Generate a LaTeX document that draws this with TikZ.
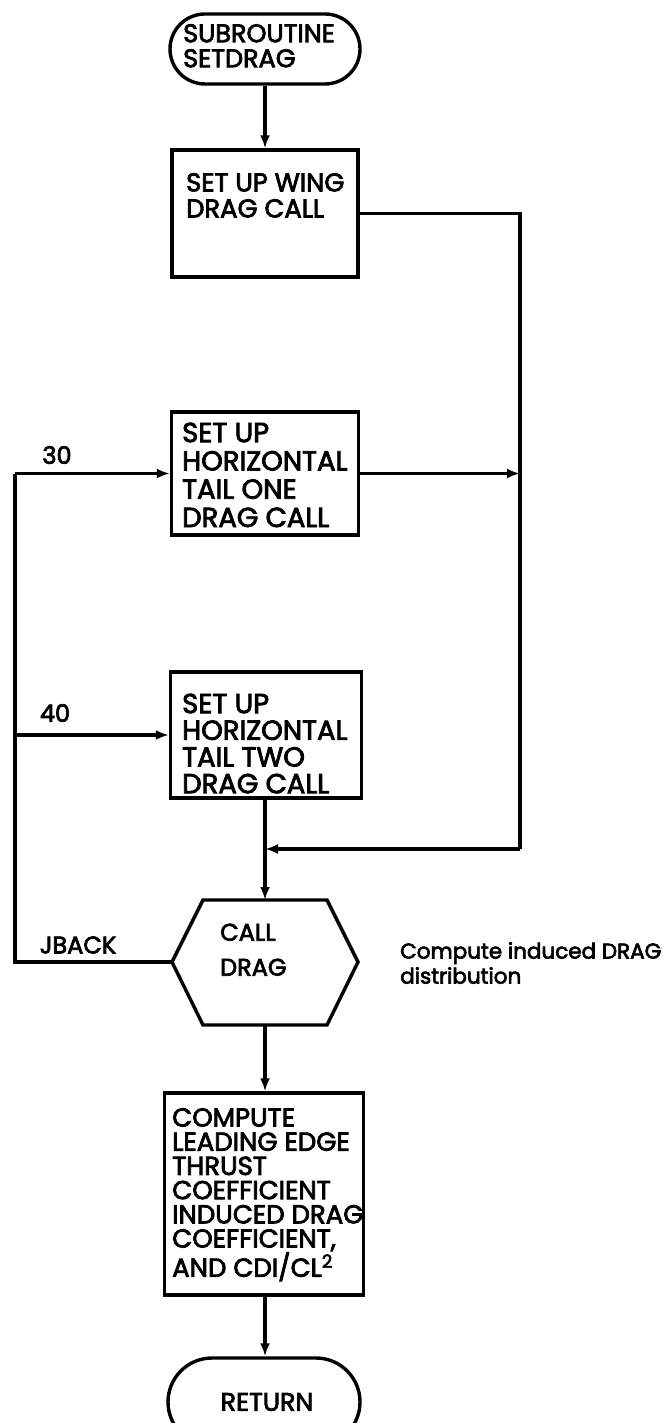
\documentclass[tikz,border=0pt]{standalone}
\usepackage{fontspec}
\setmainfont{Poppins}
\newfontfamily\fa{Poppins}[FakeBold=3]
\usetikzlibrary{arrows.meta,shapes.misc}
\begin{document}
\begin{tikzpicture}[x=1pt,y=1pt,
  ln/.style={line width=3.4pt},
  arr/.style={line width=3.4pt,-{Latex[length=13pt,width=10pt]}},
  box/.style={draw,line width=3.4pt,rectangle,inner sep=0},
  term/.style={draw,line width=3.4pt,rounded rectangle,inner sep=0},
  txt/.style={inner sep=0,align=left,anchor=north west},
  lbl/.style={inner sep=0,font=\fa\fontsize{24}{26}\selectfont}
]
\fill[white] (0,0) rectangle (668,-1423);
\useasboundingbox (0,0) rectangle (668,-1423);

% shapes
\node[term,minimum width=190pt,minimum height=70pt] (start) at (265,-49) {};
\node[box,minimum width=186pt,minimum height=127pt] (b1) at (265,-213.5) {};
\node[box,minimum width=187pt,minimum height=123pt] (b2) at (265,-473.5) {};
\node[box,minimum width=191pt,minimum height=126pt] (b3) at (266,-735) {};
\coordinate (hexN) at (265,-900);
\coordinate (hexS) at (265,-1025);
\coordinate (hexW) at (172,-962);
\coordinate (hexE) at (358,-962);
\draw[ln,line join=miter] (203,-900) -- (327,-900) -- (hexE) -- (327,-1025) -- (203,-1025) -- (hexW) -- cycle;
\node[box,minimum width=199pt,minimum height=202pt] (b4) at (264,-1194) {};
\node[term,minimum width=192pt,minimum height=88pt] (ret) at (264,-1402) {};

% texts
\node[txt,font=\fa\fontsize{25.5}{25}\selectfont] (t0) at (183,-24) {SUBROUTINE\\SETDRAG};
\node[txt,font=\fa\fontsize{25.8}{26}\selectfont] (t1) at (186,-173) {SET UP WING\\DRAG CALL};
\node[txt,font=\fa\fontsize{27.5}{28.3}\selectfont] (t2) at (182,-422.5) {SET UP\\HORIZONTAL\\TAIL ONE\\DRAG CALL};
\node[txt,font=\fa\fontsize{27.5}{26.7}\selectfont] (t3) at (182,-693.5) {SET UP\\HORIZONTAL\\TAIL TWO\\DRAG CALL};
\node[txt,font=\fa\fontsize{24}{35}\selectfont] (th) at (220,-923.5) {CALL\\DRAG};
\node[txt,font=\fa\fontsize{26}{24.2}\selectfont] (t4) at (172,-1108) {COMPUTE\\LEADING EDGE\\THRUST\\COEFFICIENT\\INDUCED DRAG\\COEFFICIENT,\\AND CDI/CL\textsuperscript{2}};
\node[lbl,font=\fa\fontsize{25.4}{26}\selectfont] (tr) at (267,-1402) {RETURN};
\node[txt,font=\fa\fontsize{21.5}{25}\selectfont] (note) at (400,-942) {Compute induced DRAG\\distribution};

% connector coordinates
\coordinate (jn) at (265,-849);
\coordinate (rc0) at (520,-213.5);
\coordinate (rc1) at (520,-473.5);
\coordinate (rc2) at (520,-849);
\coordinate (lc0) at (15,-962);
\coordinate (lc1) at (15,-473.5);
\coordinate (lc2) at (15,-735);

% connectors
\draw[arr] (start.south) -- (b1.north);
\draw[ln,line join=miter] (b1.east) -- (rc0) -- (rc2);
\draw[arr] (rc2) -- (jn);
\draw[arr] (b2.east) -- (rc1);
\draw[ln] (b3.south -| hexN) -- (jn);
\draw[arr] (jn) -- (hexN);
\draw[ln,line join=miter] (hexW) -- (lc0) -- (lc1);
\draw[arr] (lc1) -- (b2.west);
\draw[arr] (lc2) -- (b3.west);
\draw[arr] (hexS) -- (b4.north -| hexS);
\draw[arr] (b4.south -| hexS) -- (ret.north -| hexS);

% labels
\node[lbl] (l30) at (57,-455) {30};
\node[lbl] (l40) at (55,-713) {40};
\node[lbl] (lj) at (78,-945) {JBACK};
\end{tikzpicture}
\end{document}
